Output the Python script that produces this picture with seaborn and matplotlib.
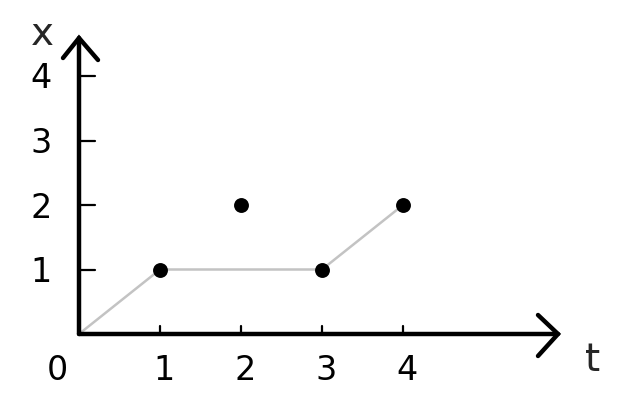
import matplotlib
matplotlib.use("Agg")
import matplotlib.pyplot as plt
import seaborn as sns
import pandas as pd

# data
path_t = [0, 1, 3, 4]
path_x = [0, 1, 1, 2]
point_t = [1, 2, 3, 4]
point_x = [1, 2, 1, 2]
tick_labels_t = ["1", "2", "3", "4"]
tick_labels_x = ["1", "2", "3", "4"]

sns.set_style("white")
plt.rcParams['font.family'] = ['DejaVu Sans']

UX = 81.0   # pixels per t unit
UY = 64.5   # pixels per x unit
OX, OY = 79, 334

fig = plt.figure(figsize=(6.26, 4.0), dpi=100)
ax = fig.add_axes([0, 0, 1, 1])
ax.set_xlim(-OX / UX, (626 - OX) / UX)
ax.set_ylim((OY - 400) / UY, OY / UY)
ax.set_axis_off()

line_df = pd.DataFrame({"t": path_t, "x": path_x})
pts_df = pd.DataFrame({"t": point_t, "x": point_x})

sns.lineplot(data=line_df, x="t", y="x", sort=False, color="#c3c3c3",
             linewidth=1.8, ax=ax, zorder=2)
sns.scatterplot(data=pts_df, x="t", y="x", color="black", s=115,
                edgecolor="black", linewidth=0, ax=ax, zorder=3)

# axes lines
xend = (558 - OX) / UX
yend = (OY - 38) / UY
ax.plot([0, xend], [0, 0], color="black", lw=3.2, solid_capstyle="round", zorder=4)
ax.plot([0, 0], [0, yend], color="black", lw=3.2, solid_capstyle="round", zorder=4)
# arrow heads
ax.plot([xend - 20 / UX, xend, xend - 20 / UX], [19 / UY, 0, -22 / UY],
        color="black", lw=3.2, solid_capstyle="round", solid_joinstyle="miter", zorder=4)
ax.plot([-16 / UX, 0, 19 / UX], [yend - 20 / UY, yend, yend - 22 / UY],
        color="black", lw=3.2, solid_capstyle="round", solid_joinstyle="miter", zorder=4)

# ticks
for t in point_t:
    ax.plot([t, t], [0, 8 / UY], color="black", lw=1.6, zorder=4)
for v in range(1, 5):
    ax.plot([0, 16 / UX], [v, v], color="black", lw=1.6, zorder=4)

fs = 24
for t, lab in zip(point_t, tick_labels_t):
    ax.text(t + 4 / UX, -36 / UY, lab, fontsize=fs, ha="center", va="center",
            color="black")
ax.text(-22 / UX, -36 / UY, "0", fontsize=fs, ha="center", va="center", color="black")
for v, lab in zip(range(1, 5), tick_labels_x):
    ax.text(-38 / UX, v - 3 / UY, lab, fontsize=fs, ha="center", va="center", color="black")

ax.text((593 - OX) / UX, (OY - 360) / UY, "t", fontsize=28, ha="center", va="center")
ax.text((42 - OX) / UX, (OY - 34) / UY, "x", fontsize=28, ha="center", va="center")

fig.savefig("out.png", dpi=100)
